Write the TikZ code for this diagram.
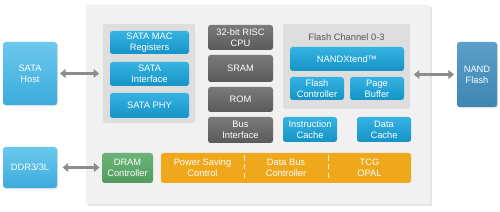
\documentclass[tikz,border=0pt]{standalone}
\usepackage{fontspec}
\setmainfont{Liberation Sans}
\usetikzlibrary{arrows.meta,shadows}
\definecolor{chipbg}{HTML}{F1F1F1}
\definecolor{panelbg}{HTML}{DEDEDE}
\definecolor{bluetop}{HTML}{36B3E2}
\definecolor{bluebot}{HTML}{1593C6}
\definecolor{ltop}{HTML}{6CC8EE}
\definecolor{lbot}{HTML}{3CACDC}
\definecolor{ntop}{HTML}{5C9FC8}
\definecolor{nbot}{HTML}{3F86B3}
\definecolor{greytop}{HTML}{7A7A7A}
\definecolor{greybot}{HTML}{5A5A5A}
\definecolor{orange}{HTML}{EFA71B}
\definecolor{greentop}{HTML}{6DB377}
\definecolor{greenbot}{HTML}{519C5D}
\definecolor{arrowgrey}{HTML}{8C8C8C}
\definecolor{titlegrey}{HTML}{555555}
\tikzset{
  sz/.style 2 args={minimum width=#1*0.02cm, minimum height=#2*0.02cm, inner sep=0pt},
  txt/.style={font=\fontsize{5.3}{6.2}\selectfont, text=white, align=center},
  bluebox/.style={txt, rounded corners=1.5pt, top color=bluetop, bottom color=bluebot},
  outerbox/.style={txt, rounded corners=1.5pt, top color=ltop, bottom color=lbot,
     drop shadow={shadow xshift=0.6pt, shadow yshift=-0.6pt, opacity=0.25}},
  nandbox/.style={txt, rounded corners=1.5pt, top color=ntop, bottom color=nbot,
     drop shadow={shadow xshift=0.6pt, shadow yshift=-0.6pt, opacity=0.25}},
  greybox/.style={txt, rounded corners=1.5pt, top color=greytop, bottom color=greybot},
  greenbox/.style={txt, rounded corners=1.5pt, top color=greentop, bottom color=greenbot},
  panel/.style={fill=panelbg, rounded corners=1pt},
  conn/.style={draw=arrowgrey, line width=1.6pt, {Triangle[length=3.2pt,width=5pt]}-{Triangle[length=3.2pt,width=5pt]}},
}
\begin{document}
\begin{tikzpicture}[x=0.02cm, y=-0.02cm]
\useasboundingbox (0,0) rectangle (500,212);
\fill[white] (0,0) rectangle (500,212);
% chip
\node[sz={344}{199}, fill=chipbg, drop shadow={shadow xshift=1pt, shadow yshift=-1pt, opacity=0.2}] (chip) at (258,104.5) {};
% SATA panel
\node[sz={92}{99}, panel] (sataPanel) at (149,73.5) {};
\node[sz={79}{23}, bluebox] (mac) at (149.5,42.5) {SATA MAC\\Registers};
\node[sz={79}{24}, bluebox] (sif) at (149.5,74) {SATA\\Interface};
\node[sz={79}{25}, bluebox] (phy) at (149.5,105.5) {SATA PHY};
% CPU column
\node[sz={65}{25}, greybox] (cpu) at (240.5,37.5) {32-bit RISC\\CPU};
\node[sz={65}{27}, greybox] (sram) at (240.5,68.5) {SRAM};
\node[sz={65}{25}, greybox] (rom) at (240.5,99.5) {ROM};
\node[sz={65}{26}, greybox] (bus) at (240.5,130) {Bus\\Interface};
% Flash channel
\node[sz={127}{85}, panel] (flashPanel) at (346.5,66.5) {};
\node[txt, text=titlegrey, inner sep=0pt] (ftitle) at (346.5,37) {Flash Channel 0-3};
\node[sz={114}{24}, bluebox] (nandx) at (347,59) {NANDXtend™};
\node[sz={54}{23}, bluebox] (fctrl) at (317,88.5) {Flash\\Controller};
\node[sz={54}{23}, bluebox] (pbuf) at (377,88.5) {Page\\Buffer};
% caches
\node[sz={54}{25}, bluebox] (icache) at (310,129.5) {Instruction\\Cache};
\node[sz={54}{25}, bluebox] (dcache) at (384,129.5) {Data\\Cache};
% bottom row
\node[sz={51}{30}, greenbox] (dram) at (127.5,168) {DRAM\\Controller};
\node[sz={250}{30}, fill=orange, rounded corners=1.5pt] (obar) at (286,168) {};
\node[sz={83}{30}, txt] (psc) at (202.5,168) {Power Saving\\Control};
\node[sz={84}{30}, txt] (dbc) at (286,168) {Data Bus\\Controller};
\node[sz={83}{30}, txt] (tcg) at (369.5,168) {TCG\\OPAL};
\draw[white, densely dashed, line width=0.5pt, opacity=0.8] ([yshift=-1.5pt]psc.north east) -- ([yshift=1.5pt]psc.south east);
\draw[white, densely dashed, line width=0.5pt, opacity=0.8] ([yshift=-1.5pt]dbc.north east) -- ([yshift=1.5pt]dbc.south east);
% external
\node[sz={54}{63}, outerbox] (host) at (30,73.5) {SATA\\Host};
\node[sz={54}{41}, outerbox] (ddr) at (30,167.5) {DDR3/3L};
\node[sz={40}{65}, nandbox] (nand) at (477,74.5) {NAND\\Flash};
% connectors
\draw[conn, shorten <=1.5pt, shorten >=2pt] (host.east) -- (host.east -| sataPanel.west);
\draw[conn, shorten <=2pt, shorten >=1.5pt] (nand.west -| flashPanel.east) -- (nand.west);
\draw[conn, shorten <=3pt, shorten >=1.2pt] (ddr.east) -- (ddr.east -| dram.west);
\end{tikzpicture}
\end{document}
